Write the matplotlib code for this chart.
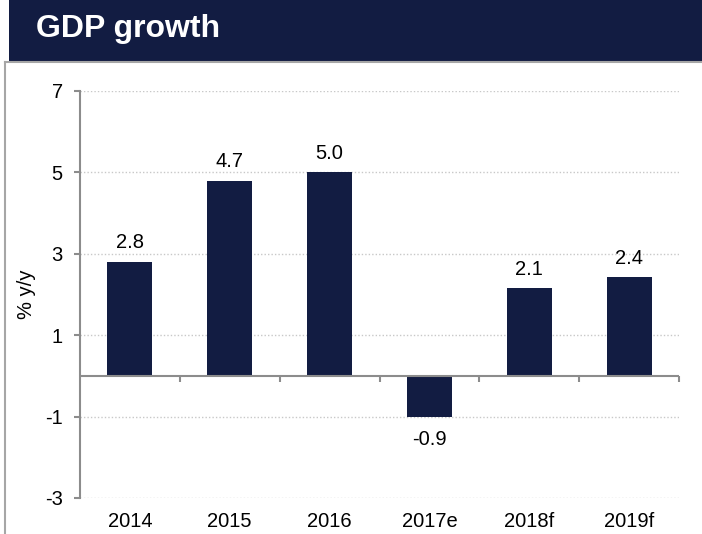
import numpy as np
import matplotlib.pyplot as plt
from matplotlib.patches import Rectangle
from matplotlib.lines import Line2D

plt.rcParams['font.family'] = ['Liberation Sans', 'DejaVu Sans']

years = ['2014', '2015', '2016', '2017e', '2018f', '2019f']
growth = [2.8, 4.8, 5.0, -1.0, 2.15, 2.42]   # bar heights as drawn
labels = ['2.8', '4.7', '5.0', '-0.9', '2.1', '2.4']
yticks = [-3, -1, 1, 3, 5, 7]

navy = '#121c42'
axgray = '#8c8c8c'

fig = plt.figure(figsize=(7.02, 5.34), dpi=100)
W, H = 702.0, 534.0

# title banner and frame
fig.patches.append(Rectangle((9/W, 1-61/H), 1-9/W, 61/H, transform=fig.transFigure,
                             facecolor=navy, edgecolor='none'))
fig.lines.append(Line2D([5/W, 1], [1-62/H, 1-62/H], transform=fig.transFigure, color='#a6a6a6', lw=1.5))
fig.lines.append(Line2D([5/W, 5/W], [0, 1-62/H], transform=fig.transFigure, color='#a6a6a6', lw=1.5))
fig.text(36/W, 1-37/H, 'GDP growth', color='white', fontsize=23, fontweight='bold',
         va='baseline', ha='left')

ax = fig.add_axes([80/W, 1-498/H, 599/W, 407/H])
x = np.arange(len(years))
ax.bar(x, growth, width=0.45, color=navy, zorder=3)

for xi, v, lab in zip(x, growth, labels):
    if v >= 0:
        ax.annotate(lab, (xi, v), xytext=(0, 10), textcoords='offset points',
                    ha='center', va='baseline', fontsize=14.5)
    else:
        ax.annotate(lab, (xi, v), xytext=(0, -10), textcoords='offset points',
                    ha='center', va='top', fontsize=14.5)

ax.set_xlim(-0.5, len(years) - 0.5)
ax.set_ylim(-3, 7)
ax.set_yticks(yticks)
ax.set_yticklabels([str(t) for t in yticks], fontsize=14.5)
ax.grid(axis='y', color='#c8c8c8', linestyle=(0, (1, 1.5)), lw=1, zorder=0)
ax.set_xticks(x)
ax.set_xticklabels(years, fontsize=14.5)
ax.tick_params(axis='x', length=0, pad=10)
ax.tick_params(axis='y', length=4.5, width=1.5, color=axgray, pad=8)
for s in ['top', 'right', 'bottom']:
    ax.spines[s].set_visible(False)
ax.spines['left'].set_color(axgray)
ax.spines['left'].set_linewidth(1.5)

# zero line with category boundary ticks
ax.axhline(0, color=axgray, lw=1.5, zorder=4)
bounds = np.arange(len(years) + 1) - 0.5
ax.vlines(bounds[1:], -0.15, 0, color=axgray, lw=1.5, zorder=4, clip_on=False)

ax.set_ylabel('% y/y', fontsize=14.5)
ax.yaxis.set_label_coords(-44/599, 0.5)

fig.savefig('out.png', dpi=100)
